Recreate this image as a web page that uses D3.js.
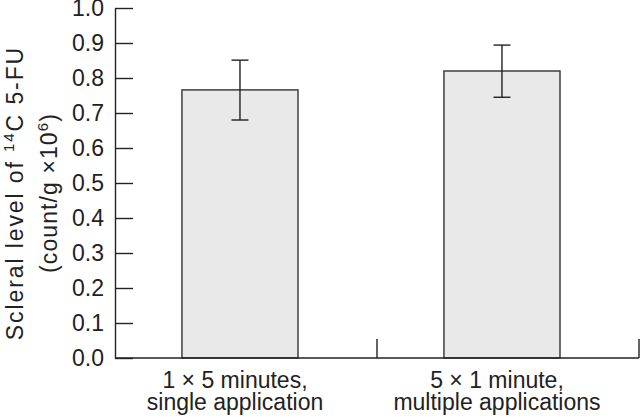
<!DOCTYPE html>
<html>
<head>
<meta charset="utf-8">
<script src="https://cdn.jsdelivr.net/npm/d3@7"></script>
<style>
  body { margin: 0; background: #fff; }
  svg { display: block; font-family: "Liberation Sans", Arial, sans-serif; }
</style>
</head>
<body>
<svg id="chart" width="640" height="419"></svg>
<script>
const categories = ["single", "multiple"];
const labelLines = [["1 × 5 minutes,", "single application"], ["5 × 1 minute,", "multiple applications"]];
const values = [0.766, 0.82];
const errLow = [0.68, 0.745];
const errHigh = [0.851, 0.894];
const yTicks = [0, 0.1, 0.2, 0.3, 0.4, 0.5, 0.6, 0.7, 0.8, 0.9, 1.0];

const svg = d3.select("#chart");
const ink = "#222";
const fs = 23;

const x = d3.scaleBand().domain(categories).range([115, 639]).padding(0);
const y = d3.scaleLinear().domain([0, 1]).range([358, 8]);
const bw = x.bandwidth();
const barW = bw * 0.443;
// bars sit a bit left of the band centre in the original
const barCx = d => x(d) + bw * 0.477;

// bars
svg.append("g").selectAll("rect")
  .data(categories)
  .join("rect")
  .attr("x", d => barCx(d) - barW / 2)
  .attr("y", (d, i) => y(values[i]))
  .attr("width", barW)
  .attr("height", (d, i) => y(0) - y(values[i]))
  .attr("fill", "#e9e9e9")
  .attr("stroke", "#333")
  .attr("stroke-width", 1.4);

// error bars
const err = svg.append("g").attr("stroke", ink).attr("stroke-width", 1.4);
categories.forEach((c, i) => {
  const cx = barCx(c);
  err.append("line").attr("x1", cx).attr("x2", cx).attr("y1", y(errLow[i])).attr("y2", y(errHigh[i]));
  [errLow[i], errHigh[i]].forEach(v => {
    err.append("line").attr("x1", cx - 8.5).attr("x2", cx + 8.5).attr("y1", y(v)).attr("y2", y(v));
  });
});

// y axis, ticks pointing inward
const yAxis = svg.append("g")
  .attr("transform", "translate(115,0)")
  .call(d3.axisLeft(y).tickValues(yTicks).tickFormat(d3.format(".1f")).tickSizeInner(-18).tickSizeOuter(0).tickPadding(11));
yAxis.selectAll("path, line").attr("stroke", ink).attr("stroke-width", 1.4);
yAxis.selectAll("text").attr("font-size", fs).attr("fill", ink).attr("font-family", "Liberation Sans, Arial, sans-serif");

// x axis: baseline plus upward ticks at band edges
const xAxis = svg.append("g").attr("stroke", ink).attr("stroke-width", 1.4);
xAxis.append("line").attr("x1", x.range()[0]).attr("x2", x.range()[1]).attr("y1", y(0)).attr("y2", y(0));
categories.forEach(c => {
  const tx = x(c) + bw;
  xAxis.append("line").attr("x1", tx).attr("x2", tx).attr("y1", y(0)).attr("y2", y(0) - 19);
});

// category labels
const lab = svg.append("g").attr("font-size", fs).attr("fill", ink).attr("text-anchor", "middle");
categories.forEach((c, i) => {
  const cx = x(c) + bw * 0.458;
  labelLines[i].forEach((t, k) => {
    lab.append("text").attr("x", cx).attr("y", 388 + k * 22).text(t);
  });
});

// y title
const title = svg.append("text")
  .attr("transform", "translate(0,193) rotate(-90)")
  .attr("text-anchor", "middle")
  .attr("font-size", fs)
  .attr("fill", ink);
const l1 = title.append("tspan").attr("x", 0).attr("y", 23).attr("letter-spacing", 1.9);
l1.append("tspan").text("Scleral level of ");
l1.append("tspan").attr("font-size", 15).attr("dy", -9).text("14");
l1.append("tspan").attr("dy", 9).text("C 5-FU");
const l2 = title.append("tspan").attr("x", 0).attr("y", 57).attr("letter-spacing", 1.1);
l2.append("tspan").text("(count/g ×10");
l2.append("tspan").attr("font-size", 15).attr("dy", -9).text("6");
l2.append("tspan").attr("dy", 9).text(")");
</script>
</body>
</html>
